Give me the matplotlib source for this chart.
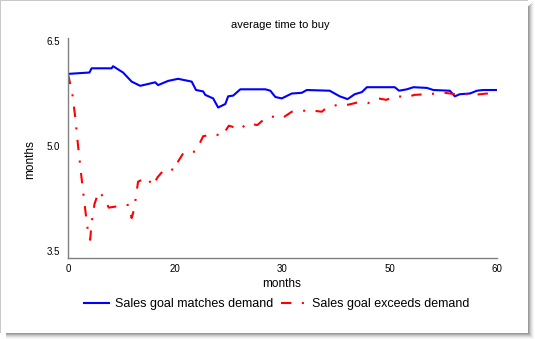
import matplotlib
matplotlib.use("Agg")
import matplotlib.pyplot as plt
from matplotlib.patches import Rectangle

plt.rcParams['font.family'] = ['Liberation Sans', 'DejaVu Sans']

# Sales goal matches demand
match_months = [0, 3.0, 3.3, 6.1, 6.3, 7.7, 8.9, 10.1, 12.2, 12.6, 14.0, 15.4,
                17.3, 17.9, 18.9, 19.2, 20.3, 21.0, 22.0, 22.4, 23.1, 24.1,
                27.6, 28.3, 29.0, 29.9, 31.3, 32.7, 33.4, 36.6, 38.0, 39.1,
                40.1, 41.1, 41.8, 45.7, 46.3, 47.4, 48.3, 50.2, 51.1, 53.4,
                54.1, 54.8, 56.2, 57.2, 58.1, 60.0]
match_vals = [6.03, 6.05, 6.11, 6.11, 6.14, 6.05, 5.92, 5.86, 5.91, 5.87, 5.93, 5.96,
              5.92, 5.80, 5.78, 5.73, 5.68, 5.55, 5.60, 5.71, 5.72, 5.81,
              5.81, 5.79, 5.70, 5.68, 5.75, 5.76, 5.80, 5.79, 5.71, 5.67,
              5.74, 5.77, 5.84, 5.84, 5.79, 5.81, 5.84, 5.83, 5.80, 5.79,
              5.71, 5.74, 5.75, 5.79, 5.80, 5.80]

# Sales goal exceeds demand
exceed_months = [0, 0.6, 1.0, 1.4, 1.9, 2.4, 2.9, 3.1, 3.3, 3.7, 4.3, 4.9, 5.7,
                 7.0, 8.5, 8.9, 9.1, 9.4, 9.8, 11.0, 11.9, 12.5, 13.5, 15.1,
                 15.4, 16.2, 17.8, 18.1, 18.9, 20.6, 21.5, 22.5, 24.1, 25.0,
                 26.5, 27.6, 28.5, 30.0, 31.3, 32.5, 33.9, 35.5, 36.2, 37.8,
                 39.2, 40.4, 41.9, 43.4, 44.5, 45.9, 47.6, 48.4, 50.1, 51.6,
                 52.7, 54.2, 54.7, 56.7, 58.6, 60.0]
exceed_vals = [6.03, 5.75, 5.42, 5.01, 4.54, 4.10, 3.69, 3.66, 3.90, 4.17, 4.35, 4.28, 4.12,
               4.14, 4.16, 3.97, 4.04, 4.20, 4.49, 4.55, 4.43, 4.55, 4.67, 4.66,
               4.78, 4.91, 4.92, 4.97, 5.14, 5.17, 5.14, 5.29, 5.24, 5.32,
               5.30, 5.40, 5.42, 5.40, 5.49, 5.50, 5.51, 5.49, 5.55, 5.59,
               5.59, 5.62, 5.61, 5.68, 5.66, 5.71, 5.70, 5.73, 5.74, 5.75,
               5.76, 5.74, 5.75, 5.73, 5.75, 5.72]

x_ticks = [0, 15, 30, 45, 60]
x_tick_labels = ['0', '20', '30', '50', '60']
y_ticks = [3.5, 5.0, 6.5]
y_tick_labels = ['3.5', '5.0', '6.5']

W, H = 535, 339
fig = plt.figure(figsize=(W / 100, H / 100), dpi=100)

# screenshot-like frame with a shadow on the right and bottom
fig.patches.append(Rectangle((0, 0), 1, 1, transform=fig.transFigure,
                             facecolor='white', edgecolor='none', zorder=-10))
for i, c in enumerate(['#9a9a9a', '#b0b0b0', '#c8c8c8', '#dcdcdc', '#ececec', '#f6f6f6']):
    fig.patches.append(Rectangle(((528 + i) / W, 0), 1 / W, (H - 6 + i) / H,
                                 transform=fig.transFigure, facecolor=c,
                                 edgecolor='none', zorder=-5))
    fig.patches.append(Rectangle((6 / W, (6 - i - 1) / H), (522 + i) / W, 1 / H,
                                 transform=fig.transFigure, facecolor=c,
                                 edgecolor='none', zorder=-5))
fig.patches.append(Rectangle((0, 6 / H), 1 / W, (H - 6) / H, transform=fig.transFigure,
                             facecolor='#c8c8c8', edgecolor='none', zorder=-5))
fig.patches.append(Rectangle((0, (H - 1) / H), 528 / W, 1 / H, transform=fig.transFigure,
                             facecolor='#c8c8c8', edgecolor='none', zorder=-5))

ax = fig.add_axes([68 / W, 1 - 258 / H, (497 - 68) / W, (258 - 38) / H])
ax.set_facecolor('none')

ax.plot(match_months, match_vals, color='#0000ff', linewidth=1.5,
        label='Sales goal matches demand')
ax.plot(exceed_months, exceed_vals, color='#ff0000', linewidth=1.5,
        linestyle=(0, (5, 5, 1, 5)), label='Sales goal exceeds demand')

ax.set_xlim(0, 60)
ax.set_ylim(3.4, 6.543)
ax.set_xticks(x_ticks)
ax.set_xticklabels(x_tick_labels)
ax.set_yticks(y_ticks)
ax.set_yticklabels(y_tick_labels)
ax.tick_params(length=0, labelsize=7, colors='black')
ax.tick_params(axis='y', pad=6)
ax.tick_params(axis='x', pad=4)

for side in ['top', 'right']:
    ax.spines[side].set_visible(False)
for side in ['left', 'bottom']:
    ax.spines[side].set_color('#808080')
    ax.spines[side].set_linewidth(1.0)

fig.text(280 / W, 1 - 25 / H, 'average time to buy', ha='center', va='center', fontsize=8)
fig.text(282 / W, 1 - 284 / H, 'months', ha='center', va='center', fontsize=8.5)
fig.text(30 / W, 1 - 160 / H, 'months', ha='center', va='center', fontsize=8.5,
         rotation=90)

fig.legend(loc='center', bbox_to_anchor=(277 / W, 1 - 304 / H), ncol=2, frameon=False,
           fontsize=9, handlelength=2.0, handletextpad=0.5, columnspacing=0.6,
           borderaxespad=0)

fig.savefig('out.png', dpi=100)
